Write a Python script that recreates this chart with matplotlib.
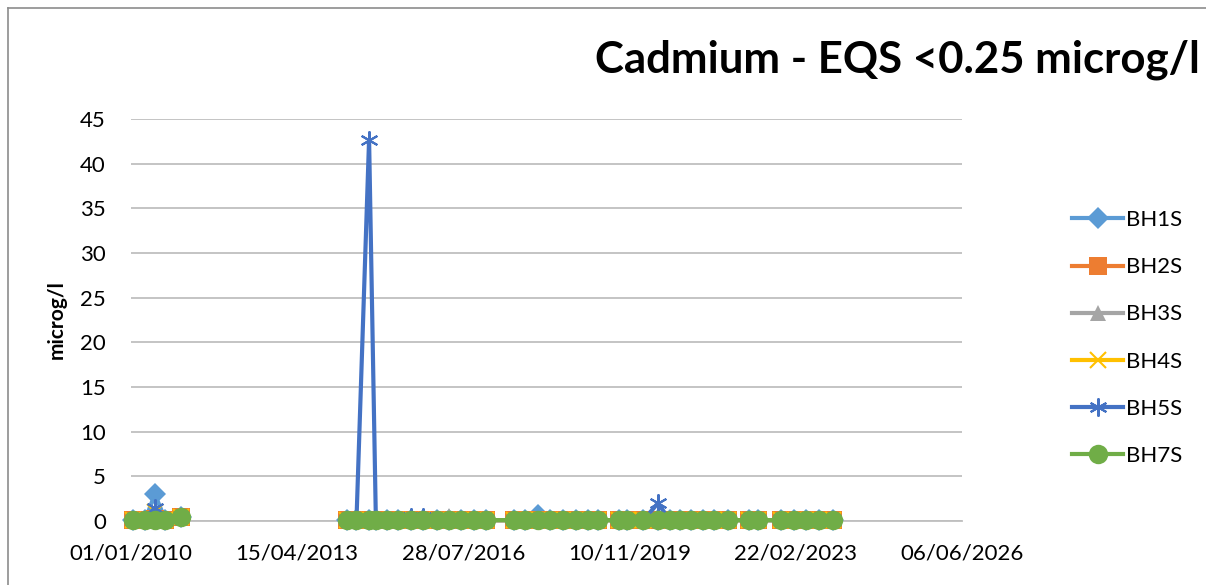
import matplotlib
matplotlib.use("Agg")
import matplotlib.pyplot as plt
import numpy as np
import pandas as pd
from matplotlib.lines import Line2D

plt.rcParams['font.family'] = ['Lato', 'DejaVu Sans']

title = "Cadmium - EQS <0.25 microg/l"
y_label = "microg/l"
series_names = ["BH1S", "BH2S", "BH3S", "BH4S", "BH5S", "BH7S"]

dates = ["12/01/2010", "13/04/2010", "22/06/2010", "07/09/2010", "28/12/2010",
         "01/06/2012",
         "08/04/2014", "17/06/2014", "16/09/2014", "04/11/2014", "20/01/2015",
         "14/04/2015", "14/07/2015", "13/10/2015", "19/01/2016", "12/04/2016",
         "12/07/2016", "11/10/2016", "10/01/2017",
         "25/07/2017", "17/10/2017", "16/01/2018", "17/04/2018", "17/07/2018",
         "16/10/2018", "15/01/2019", "26/03/2019",
         "27/08/2019", "22/10/2019",
         "18/02/2020", "02/06/2020", "25/08/2020", "10/11/2020", "26/01/2021",
         "20/04/2021", "13/07/2021", "19/10/2021",
         "24/03/2022", "28/05/2022",
         "08/11/2022", "07/02/2023", "09/05/2023", "08/08/2023", "21/11/2023"]

nan = np.nan
bh1s = [0.1, 0.1, 3.0, 0.1, 0.5, nan,
        0.1, 0.1, 0.1, 0.1, 0.1, 0.1, 0.1, 0.1, 0.1, 0.1, 0.1, 0.1, 0.1,
        0.1, 0.1, 0.7, 0.1, 0.1, 0.1, 0.1, 0.1,
        0.1, 0.1,
        0.1, 0.1, 0.1, 0.1, 0.1, 0.1, 0.1, 0.1,
        0.1, 0.1,
        0.1, 0.1, 0.1, 0.1, 0.1]
bh2s = [0.1, 0.1, 0.2, 0.1, 0.5, nan,
        0.1, 0.1, 0.1, 0.1, 0.1, 0.1, 0.1, 0.1, 0.1, 0.1, 0.1, 0.1, 0.1,
        0.1, 0.1, 0.1, 0.1, 0.1, 0.1, 0.1, 0.1,
        0.1, 0.1,
        0.1, 0.1, 0.1, 0.1, 0.1, 0.1, 0.1, 0.1,
        0.1, 0.1,
        0.1, 0.1, 0.1, 0.1, 0.1]
bh3s = [0.1, 0.1, 0.3, 0.1, 0.5, nan,
        0.1, 0.1, 0.1, 0.1, 0.1, 0.2, 0.2, 0.1, 0.1, 0.6, 0.1, 0.1, 0.1,
        0.1, 0.1, 0.1, 0.1, 0.1, 0.1, 0.1, 0.1,
        0.1, 0.1,
        0.1, 0.1, 0.1, 0.1, 0.1, 0.1, 0.1, 0.1,
        0.1, 0.1,
        0.1, 0.1, 0.1, 0.1, 0.1]
bh4s = [0.1, 0.1, 1.0, 0.1, 0.5, nan,
        0.1, 0.1, 0.1, 0.1, 0.1, 0.1, 0.1, 0.1, 0.1, 0.1, 0.1, 0.1, 0.1,
        0.1, 0.1, 0.1, 0.1, 0.1, 0.1, 0.1, 0.1,
        0.1, 0.1,
        0.1, 0.1, 0.1, 0.1, 0.1, 0.1, 0.1, 0.1,
        0.1, 0.1,
        0.1, 0.1, 0.1, 0.1, 0.1]
bh5s = [0.1, 0.1, 1.5, 0.1, 0.5, nan,
        0.1, 0.1, 42.7, 0.1, 0.1, 0.1, 0.4, 0.4, 0.1, 0.1, 0.1, 0.1, 0.1,
        0.1, 0.1, 0.1, 0.1, 0.1, 0.1, 0.1, 0.1,
        0.1, 0.1,
        0.1, 2.0, 0.1, 0.1, 0.1, 0.1, 0.1, 0.1,
        0.1, 0.1,
        0.1, 0.1, 0.1, 0.1, 0.1]
bh7s = [0.1, 0.1, 0.1, 0.1, 0.5, nan,
        0.1, 0.1, 0.1, 0.1, 0.1, 0.1, 0.1, 0.1, 0.1, 0.1, 0.1, 0.1, 0.1,
        0.1, 0.1, 0.1, 0.1, 0.1, 0.1, 0.1, 0.1,
        0.1, 0.1,
        0.1, 0.1, 0.1, 0.1, 0.1, 0.1, 0.1, 0.1,
        0.1, 0.1,
        0.1, 0.1, 0.1, 0.1, 0.1]

x_ticks = ["01/01/2010", "15/04/2013", "28/07/2016", "10/11/2019", "22/02/2023", "06/06/2026"]
y_ticks = [0, 5, 10, 15, 20, 25, 30, 35, 40, 45]

colors = ["#5B9BD5", "#ED7D31", "#A5A5A5", "#FFC000", "#4472C4", "#70AD47"]
markers = ["D", "s", "^", "x", (6, 2, 0), "o"]
msizes = [11.5, 12.5, 12, 12, 13, 14]

fig = plt.figure(figsize=(12.06, 5.85), dpi=100)
ax = fig.add_axes([131/1206, 1 - 521/585, (962-131)/1206, (521-119)/585])

xd = pd.to_datetime(dates, format="%d/%m/%Y")
all_series = [bh1s, bh2s, bh3s, bh4s, bh5s, bh7s]
for name, vals, c, m, ms in zip(series_names, all_series, colors, markers, msizes):
    mew = 1.5 if m in ("x", (6, 2, 0)) else 0
    ax.plot(xd, vals, color=c, lw=3, marker=m, markersize=ms,
            markeredgewidth=mew, markeredgecolor=c, label=name, zorder=3,
            clip_on=False)

xt = pd.to_datetime(x_ticks, format="%d/%m/%Y")
ax.set_xlim(xt[0], xt[-1])
ax.set_xticks(xt)
ax.set_xticklabels(x_ticks)
ax.set_ylim(0, 45)
ax.set_yticks(y_ticks)
ax.grid(axis='y', color='#BFBFBF', lw=1.3)
ax.set_axisbelow(True)
for s in ["top", "right", "left"]:
    ax.spines[s].set_visible(False)
ax.spines["bottom"].set_color("#BFBFBF")
ax.spines["bottom"].set_linewidth(1.3)
ax.spines["bottom"].set_zorder(2)
ax.tick_params(axis='both', length=0, labelsize=16, colors='black')
ax.tick_params(axis='x', pad=16)
ax.tick_params(axis='y', pad=18)
ax.set_ylabel(y_label, fontsize=15, fontweight='bold', labelpad=10)

fig.text(1200/1206, 1 - 60/585, title, ha='right', va='center',
         fontsize=31.5, fontweight='bold')

leg = ax.legend(loc='center left', bbox_to_anchor=(1052/1206, 1 - 338/585),
                bbox_transform=fig.transFigure, frameon=False, fontsize=16,
                handlelength=2.3, labelspacing=1.22, handletextpad=0.15)

fig.add_artist(Line2D([8/1206, 1.0], [1 - 8/585, 1 - 8/585],
                      transform=fig.transFigure, color='#8C8C8C', lw=1.2))
fig.add_artist(Line2D([8/1206, 8/1206], [0.0, 1 - 8/585],
                      transform=fig.transFigure, color='#8C8C8C', lw=1.2))

fig.savefig("out.png", dpi=100)
